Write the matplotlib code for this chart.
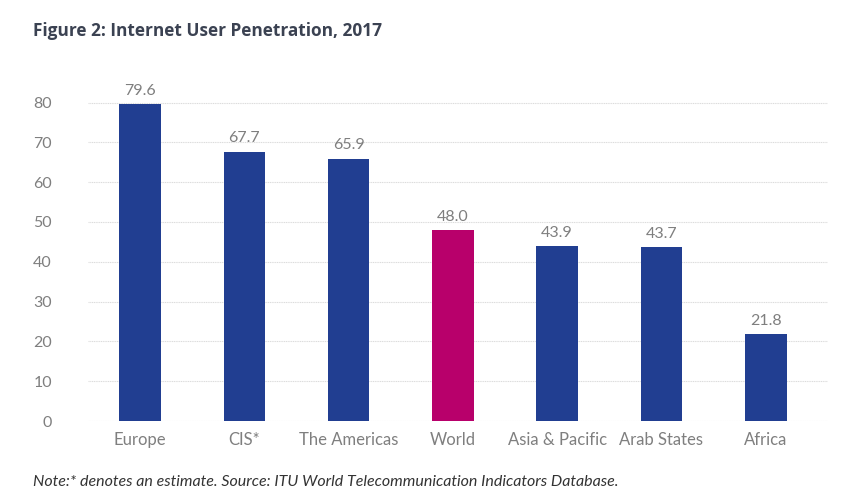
import matplotlib
matplotlib.use("Agg")
import matplotlib.pyplot as plt

categories = ["Europe", "CIS*", "The Americas", "World", "Asia & Pacific", "Arab States", "Africa"]
values = [79.6, 67.7, 65.9, 48.0, 43.9, 43.7, 21.8]
yticks = [0, 10, 20, 30, 40, 50, 60, 70, 80]

blue = "#213e91"
magenta = "#b8006b"
colors = [magenta if c == "World" else blue for c in categories]

plt.rcParams['font.family'] = ['Lato', 'DejaVu Sans']

fig = plt.figure(figsize=(8.46, 4.99), dpi=100)
ax = fig.add_axes([0.104, 0.1563, 0.875, 0.678])

x = list(range(len(categories)))
ax.bar(x, values, width=0.40, color=colors, zorder=3)
for xi, v in zip(x, values):
    ax.text(xi, v + 1.6, f"{v:.1f}", ha="center", va="bottom", fontsize=11.5, color="#7f7f7f")

ax.set_xlim(-0.5, 6.6)
ax.set_ylim(0, 85)
ax.set_yticks(yticks)
ax.set_yticklabels([str(t) for t in yticks], fontsize=11.5, color="#7f7f7f")
ax.set_xticks(x)
ax.set_xticklabels(categories, fontsize=12, color="#7f7f7f")
ax.tick_params(axis="both", length=0)
ax.tick_params(axis="y", pad=26)
ax.tick_params(axis="x", pad=8)
ax.yaxis.grid(True, color="#dcdcdc", linewidth=0.8, linestyle=(0, (1, 0.6)), zorder=0)
for s in ax.spines.values():
    s.set_visible(False)

fig.text(0.039, 0.938, "Figure 2: Internet User Penetration, 2017", fontsize=12.4, fontweight="bold",
         family=['Open Sans', 'DejaVu Sans'], color="#3b4252", ha="left", va="center")
fig.text(0.039, 0.034, "Note:* denotes an estimate. Source: ITU World Telecommunication Indicators Database.",
         fontsize=11.55, style="italic", color="#333333", ha="left", va="center")

fig.savefig("out.png", dpi=100)
